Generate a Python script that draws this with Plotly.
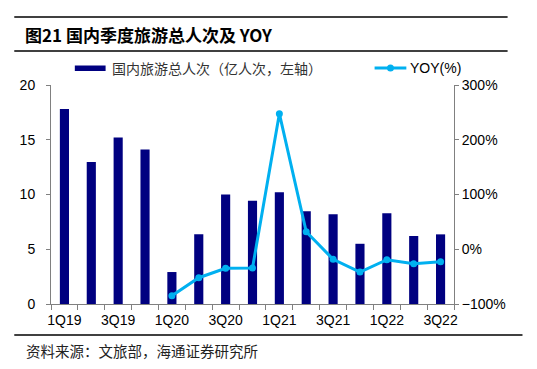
import plotly.graph_objects as go

quarters = ["1Q19", "2Q19", "3Q19", "4Q19", "1Q20", "2Q20", "3Q20", "4Q20",
            "1Q21", "2Q21", "3Q21", "4Q21", "1Q22", "2Q22", "3Q22"]
tick_labels = ["1Q19", "", "3Q19", "", "1Q20", "", "3Q20", "",
               "1Q21", "", "3Q21", "", "1Q22", "", "3Q22"]
trips = [17.8, 12.97, 15.2, 14.1, 2.92, 6.37, 10.0, 9.43,
         10.2, 8.46, 8.19, 5.5, 8.28, 6.21, 6.36]
yoy = [None, None, None, None, -84.8, -52.0, -34.8, -34.2,
       247.6, 32.0, -18.4, -41.6, -19.1, -26.4, -22.7]

bar_name = "国内旅游总人次（亿人次，左轴）"
line_name = "YOY(%)"
title_text = "图21 国内季度旅游总人次及 YOY"
source_text = "资料来源：文旅部，海通证券研究所"

NAVY = "#000080"
BLUE = "#00B0F0"

OFF = 8  # page body margin
# plot area in window pixels
L, R, T, B = 48, 454, 85, 304
W, H = 537 - OFF, 369 - OFF


def px(x):
    return (x - L) / (R - L)


def py(y):
    return (B - y) / (B - T)


fig = go.Figure()
fig.add_trace(go.Bar(x=quarters, y=trips, name=bar_name, marker_color=NAVY,
                     marker_line_width=0, yaxis="y", showlegend=False))
fig.add_trace(go.Scatter(x=quarters, y=yoy, name=line_name, yaxis="y2",
                         mode="lines+markers", connectgaps=False,
                         line=dict(color=BLUE, width=3),
                         marker=dict(color=BLUE, size=7), showlegend=False))

axis_font = dict(family="Liberation Sans, Arial", size=14, color="#000000")

fig.update_layout(
    width=W, height=H,
    margin=dict(l=L - OFF, r=W - (R - OFF), t=T - OFF, b=H - (B - OFF), pad=0),
    paper_bgcolor="white", plot_bgcolor="white",
    bargap=0.66,
    xaxis=dict(type="category", tickmode="array", tickvals=quarters,
               ticktext=tick_labels, tickson="boundaries", tickangle=0,
               ticks="outside", ticklen=5, tickcolor="#808080",
               ticklabelstandoff=3,
               showline=True, linecolor="#808080", linewidth=1,
               showgrid=False, tickfont=axis_font, range=[-0.5, 14.5]),
    yaxis=dict(range=[0, 20], dtick=5, ticks="outside", ticklen=4,
               tickcolor="#808080", showline=True, linecolor="#808080",
               linewidth=1, showgrid=False, zeroline=False,
               ticklabelstandoff=8, tickfont=axis_font),
    yaxis2=dict(range=[-100, 300], dtick=100, overlaying="y", side="right",
                ticks="outside", ticklen=4, tickcolor="#808080",
                showline=True, linecolor="#808080", linewidth=1,
                showgrid=False, zeroline=False, ticksuffix="%",
                tickfont=axis_font),
)

shapes = []
# title rules
for yy in (17, 51):
    shapes.append(dict(type="line", xref="paper", yref="paper",
                       x0=px(11), x1=px(508), y0=py(yy), y1=py(yy),
                       line=dict(color="black", width=1.5)))
# source rule
shapes.append(dict(type="line", xref="paper", yref="paper",
                   x0=px(11), x1=px(523), y0=py(335), y1=py(335),
                   line=dict(color="black", width=1.5)))
# legend symbols
shapes.append(dict(type="rect", xref="paper", yref="paper",
                   x0=px(72), x1=px(103), y0=py(65.5), y1=py(71),
                   fillcolor=NAVY, line=dict(width=0)))
shapes.append(dict(type="line", xref="paper", yref="paper",
                   x0=px(374), x1=px(406), y0=py(68), y1=py(68),
                   line=dict(color=BLUE, width=3)))
shapes.append(dict(type="circle", xref="paper", yref="paper",
                   x0=px(386.5), x1=px(393.5), y0=py(64.5), y1=py(71.5),
                   fillcolor=BLUE, line=dict(width=0)))
fig.update_layout(shapes=shapes)

cjk = "Noto Sans CJK SC"
fig.add_annotation(xref="paper", yref="paper", x=px(20), y=py(35),
                   xanchor="left", yanchor="middle", showarrow=False,
                   text="<b>" + title_text + "</b>",
                   font=dict(family=cjk, size=17, color="black"))
fig.add_annotation(xref="paper", yref="paper", x=px(107), y=py(68),
                   xanchor="left", yanchor="middle", showarrow=False,
                   text=bar_name,
                   font=dict(family=cjk, size=14, color="#333333"))
fig.add_annotation(xref="paper", yref="paper", x=px(408), y=py(68),
                   xanchor="left", yanchor="middle", showarrow=False,
                   text=line_name,
                   font=dict(family="Liberation Sans, Arial", size=14, color="black"))
fig.add_annotation(xref="paper", yref="paper", x=px(21), y=py(350),
                   xanchor="left", yanchor="middle", showarrow=False,
                   text=source_text,
                   font=dict(family=cjk, size=14.5, color="#222222"))

fig.write_html("out.html")
